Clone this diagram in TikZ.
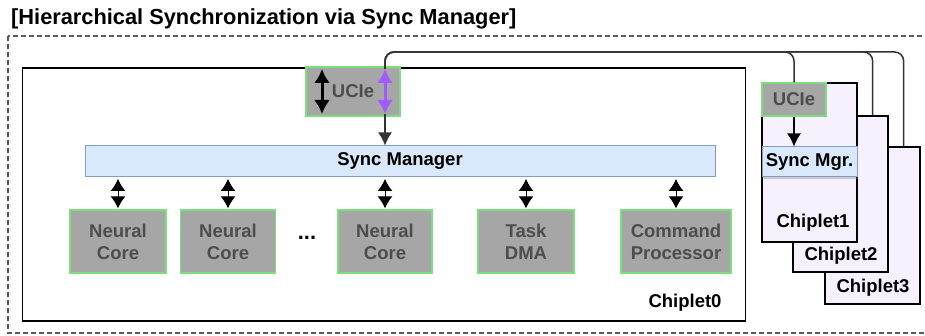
\documentclass[tikz,border=0pt]{standalone}
\usepackage{fontspec}
\setmainfont{Liberation Sans}
\usetikzlibrary{arrows.meta,shadows,calc}
\definecolor{gfill}{HTML}{A6A6A6}
\definecolor{gtext}{HTML}{4D4D4D}
\definecolor{gborder}{HTML}{7BE07B}
\definecolor{bfill}{HTML}{DAE8FC}
\definecolor{bborder}{HTML}{7E9CC8}
\definecolor{lav}{HTML}{F6F1FD}
\definecolor{purp}{HTML}{A05CFF}
\definecolor{wire}{HTML}{333333}
\begin{document}
\begin{tikzpicture}[x=1pt,y=-1pt,
  txt/.style={font=\bfseries\fontsize{18.5}{22}\selectfont},
  blk/.style={txt, draw=gborder, line width=1.3pt, fill=gfill, text=gtext, align=center, inner sep=0pt},
  chip/.style={draw=black, line width=1.3pt, fill=lav, inner sep=0pt},
  bar/.style={txt, draw=bborder, line width=1pt, fill=bfill, inner sep=0pt},
  dbl/.style={{Latex[length=12pt,width=15pt]}-{Latex[length=12pt,width=15pt]}, line width=1pt, black},
  big/.style={{Latex[length=14pt,width=16pt]}-{Latex[length=14pt,width=16pt]}, line width=3pt},
  onehead/.style={-{Latex[length=13pt,width=14pt]}, line width=1.5pt},
  wireline/.style={wire, line width=1.5pt, rounded corners=9pt}]
\useasboundingbox (0,0) rectangle (925,336);
\node[anchor=west, font=\bfseries\fontsize{21.8}{24}\selectfont, inner sep=0pt] (title) at (11,19) {[Hierarchical Synchronization via Sync Manager]};
\draw[dash pattern=on 5pt off 3pt, line width=1.2pt, black!65] (8,36) rectangle (940,333);
% Chiplet0
\node[draw=black, line width=1.5pt, fill=white, minimum width=723pt, minimum height=253pt] (c0) at (384,194.5) {};
\node[txt] (c0l) at (685,303) {Chiplet0};
% stacked chiplets
\node[chip, minimum width=95pt, minimum height=157pt] (c3) at (872.5,225.5) {};
\node[chip, minimum width=95pt, minimum height=156pt] (c2) at (840.5,194) {};
\node[chip, minimum width=95pt, minimum height=159pt] (c1) at (809.5,162.5) {};
\node[txt] (c1l) at (813,223) {Chiplet1};
\node[txt] (c2l) at (841,256) {Chiplet2};
\node[txt] (c3l) at (873,288) {Chiplet3};
% UCIe chiplet0
\node[blk, minimum width=94pt, minimum height=49pt] (u0) at (353,91.5) {UCIe};
\coordinate (pt) at (385,69);
\coordinate (pb) at (385,114);
\coordinate (bt) at (322,69);
\coordinate (bb) at (322,114);
\draw[big, black] (bt) -- (bb);
% sync manager
\node[bar, minimum width=630pt, minimum height=31pt] (sm) at (400,161.5) {Sync Manager};
% chiplet1 internals
\node[blk, minimum width=64pt, minimum height=33pt] (u1) at (794,99.5) {UCIe};
\node[bar, minimum width=95pt, minimum height=30pt, drop shadow={shadow xshift=1pt, shadow yshift=-2pt, opacity=0.35}] (sm1) at (809.5,162) {Sync Mgr.};
\draw[onehead, black] (u1.south) -- (u1.south |- sm1.north);
% wires
\draw[wireline] (pt) -- (385,52) -| (u1.north);
\draw[wireline] (pt) -- (385,52) -| ($(c2.north east)+(-16,0)$);
\draw[wireline] (pt) -- (385,52) -| ($(c3.north east)+(-17,0)$);
\draw[onehead, wire] (pb) -- (pb |- sm.north);
\draw[big, purp] (pt) -- (pb);
% blocks
\node[blk, minimum width=96pt, minimum height=63pt] (n1) at (118,241.5) {Neural\\Core};
\node[blk, minimum width=95pt, minimum height=63pt] (n2) at (228,241.5) {Neural\\Core};
\node[font=\bfseries\fontsize{22}{24}\selectfont] (dots) at (307,238) {...};
\node[blk, minimum width=94pt, minimum height=63pt] (n3) at (385,241.5) {Neural\\Core};
\node[blk, minimum width=96pt, minimum height=63pt] (dma) at (526,241.5) {Task\\DMA};
\node[blk, minimum width=110pt, minimum height=63pt] (cp) at (676,241.5) {Command\\Processor};
\foreach \n in {n1,n2,n3,dma,cp}
  \draw[dbl] ($(\n.north |- sm.south)+(0,1.5)$) -- ($(\n.north)+(0,-1)$);
\end{tikzpicture}
\end{document}
